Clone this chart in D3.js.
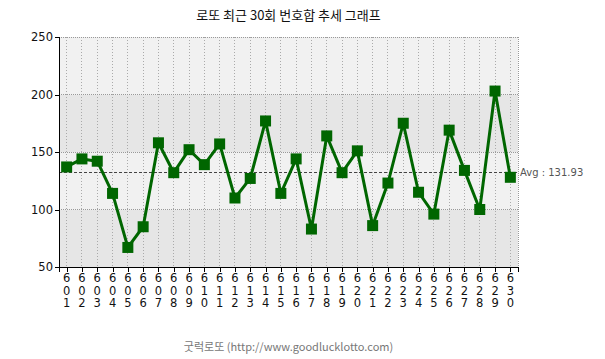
<!DOCTYPE html>
<html>
<head>
<meta charset="utf-8">
<script src="https://cdn.jsdelivr.net/npm/d3@7"></script>
<style>
  body { margin: 0; background: #fff; }
  svg text { font-family: "DejaVu Sans", sans-serif; }
</style>
</head>
<body>
<svg id="chart"></svg>
<script>
// 1) Data ----------------------------------------------------------
const rounds = ['601','602','603','604','605','606','607','608','609','610',
                '611','612','613','614','615','616','617','618','619','620',
                '621','622','623','624','625','626','627','628','629','630'];
const sums = [137, 144, 142, 114, 67, 85, 158, 132, 152, 139,
              157, 110, 127, 177, 114, 144, 83, 164, 132, 151,
              86, 123, 175, 115, 96, 169, 134, 100, 203, 128];
const yTicks = [50, 100, 150, 200, 250];
const titleText = '로또 최근 30회 번호합 추세 그래프';
const footerText = '굿럭로또 (http://www.goodlucklotto.com)';

// 2) Dimensions ----------------------------------------------------
const width = 605, height = 359;
const margin = { top: 37, right: 87, bottom: 92, left: 59 };
const innerW = width - margin.left - margin.right;
const innerH = height - margin.top - margin.bottom;

const svg = d3.select('#chart').attr('width', width).attr('height', height);
const g = svg.append('g').attr('transform', `translate(${margin.left},${margin.top})`);

const x = d3.scalePoint().domain(rounds).range([0, innerW]).padding(0.5);
const y = d3.scaleLinear().domain([50, 250]).range([innerH, 0]);

// 3) Background bands ---------------------------------------------
const bands = d3.pairs(yTicks);
g.selectAll('rect.band')
  .data(bands)
  .enter().append('rect')
  .attr('x', 0)
  .attr('width', innerW)
  .attr('y', d => y(d[1]))
  .attr('height', d => y(d[0]) - y(d[1]))
  .attr('fill', (d, i) => i % 2 === 0 ? '#e6e6e6' : '#f1f1f1');

// 4) Grid ----------------------------------------------------------
g.selectAll('line.vgrid')
  .data(rounds)
  .enter().append('line')
  .attr('x1', d => x(d)).attr('x2', d => x(d))
  .attr('y1', 0).attr('y2', innerH)
  .attr('stroke', '#aaa')
  .attr('stroke-width', 1)
  .attr('stroke-dasharray', '1,2')
  .attr('shape-rendering', 'crispEdges');

g.selectAll('line.hgrid')
  .data(yTicks.slice(1))
  .enter().append('line')
  .attr('x1', 0).attr('x2', innerW)
  .attr('y1', d => y(d)).attr('y2', d => y(d))
  .attr('stroke', '#999')
  .attr('stroke-width', 1)
  .attr('stroke-dasharray', '1,1')
  .attr('shape-rendering', 'crispEdges');
// right border dotted
g.append('line')
  .attr('x1', innerW).attr('x2', innerW)
  .attr('y1', 0).attr('y2', innerH)
  .attr('stroke', '#999')
  .attr('stroke-dasharray', '1,1')
  .attr('shape-rendering', 'crispEdges');

// 5) Average line --------------------------------------------------
const avg = d3.mean(sums);
g.append('line')
  .attr('x1', 0).attr('x2', innerW)
  .attr('y1', y(avg)).attr('y2', y(avg))
  .attr('stroke', '#444')
  .attr('stroke-dasharray', '3,2')
  .attr('shape-rendering', 'crispEdges');
g.append('text')
  .attr('x', innerW + 2)
  .attr('y', y(avg))
  .attr('dy', '0.35em')
  .attr('font-size', 10)
  .attr('fill', '#555')
  .text(`Avg : ${avg.toFixed(2)}`);

// 6) Axes ----------------------------------------------------------
const yAxis = g.append('g')
  .call(d3.axisLeft(y).tickValues(yTicks).tickSize(4).tickPadding(2));
const xAxis = g.append('g')
  .attr('transform', `translate(0,${innerH})`)
  .call(d3.axisBottom(x).tickSize(5).tickFormat(''));
[yAxis, xAxis].forEach(a => {
  a.select('.domain').attr('stroke', '#000').attr('shape-rendering', 'crispEdges');
  a.selectAll('.tick line').attr('stroke', '#000').attr('shape-rendering', 'crispEdges');
});
yAxis.selectAll('.tick text')
  .attr('font-size', 11.5)
  .attr('fill', '#111')
  .attr('font-family', '"DejaVu Sans", sans-serif');

// vertical stacked digits under ticks
const xLabels = g.append('g').attr('transform', `translate(0,${innerH})`);
xLabels.selectAll('text')
  .data(rounds)
  .enter().append('text')
  .attr('x', d => x(d))
  .attr('y', 15)
  .attr('text-anchor', 'middle')
  .attr('font-size', 11.5)
  .attr('fill', '#111')
  .each(function (d) {
    const t = d3.select(this);
    d.split('').forEach((c, i) => {
      t.append('tspan').attr('x', x(d)).attr('dy', i === 0 ? 0 : 12.5).text(c);
    });
  });

// 7) Line + markers -------------------------------------------------
const line = d3.line()
  .x((d, i) => x(rounds[i]))
  .y(d => y(d));

g.append('path')
  .datum(sums)
  .attr('d', line)
  .attr('fill', 'none')
  .attr('stroke', '#006600')
  .attr('stroke-width', 3)
  .attr('stroke-linejoin', 'round');

const mk = 11;
g.selectAll('rect.marker')
  .data(sums)
  .enter().append('rect')
  .attr('x', (d, i) => x(rounds[i]) - mk / 2)
  .attr('y', d => y(d) - mk / 2)
  .attr('width', mk)
  .attr('height', mk)
  .attr('fill', '#006600');

// 8) Title & footer -------------------------------------------------
svg.append('text')
  .attr('x', margin.left + innerW / 2)
  .attr('y', 20)
  .attr('text-anchor', 'middle')
  .attr('font-size', 13)
  .attr('fill', '#111')
  .style('font-family', '"Noto Sans CJK KR", sans-serif')
  .text(titleText);

svg.append('text')
  .attr('x', margin.left + innerW / 2)
  .attr('y', 351)
  .attr('text-anchor', 'middle')
  .attr('font-size', 11)
  .attr('fill', '#777')
  .style('font-family', '"Noto Sans CJK KR", sans-serif')
  .text(footerText);
</script>
</body>
</html>
